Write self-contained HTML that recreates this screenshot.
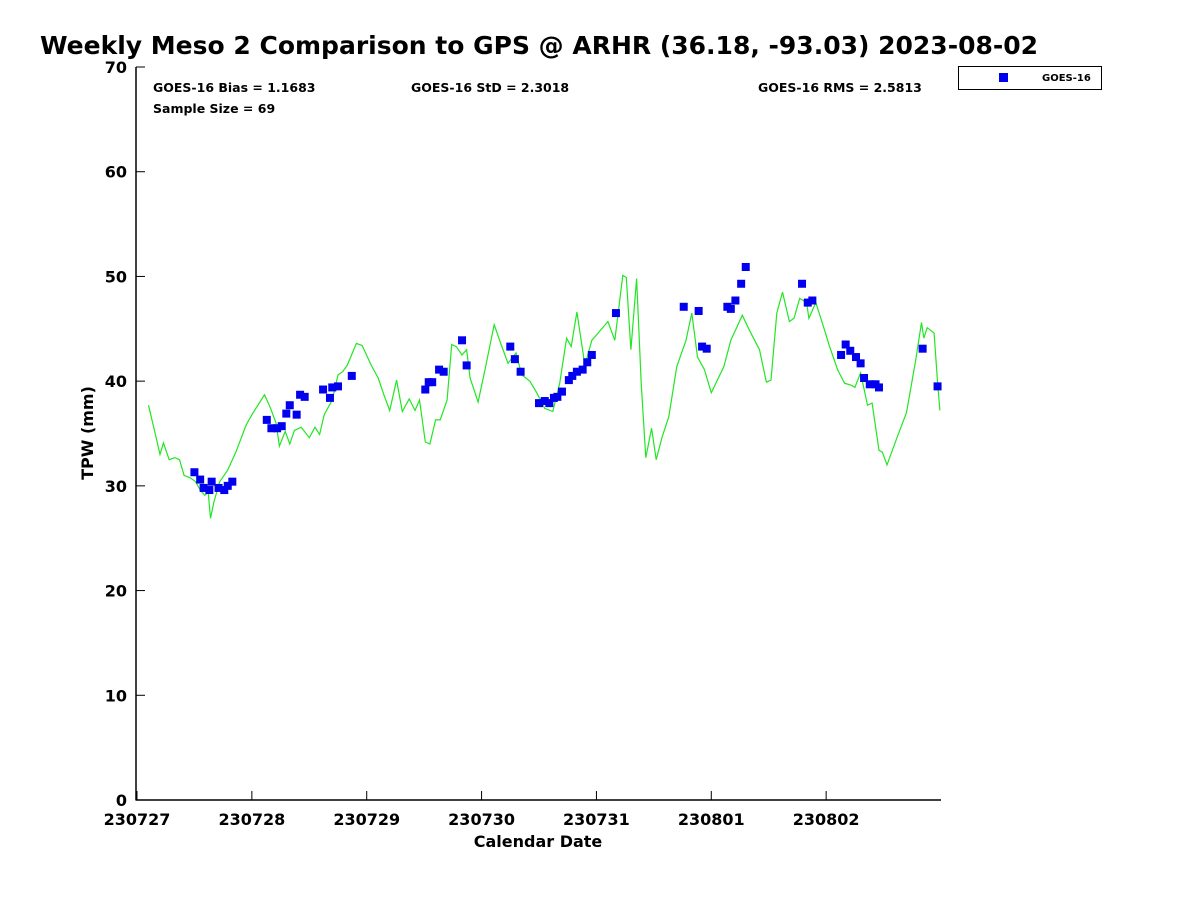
<!DOCTYPE html>
<html><head><meta charset="utf-8"><style>
body{margin:0;background:#fff;}
svg text{font-family:"DejaVu Sans","Liberation Sans",sans-serif;font-weight:bold;fill:#000;}
</style></head><body>
<svg id="chart" width="1200" height="900" xmlns="http://www.w3.org/2000/svg">
<text x="40" y="54" font-size="25">Weekly Meso 2 Comparison to GPS @ ARHR (36.18, -93.03) 2023-08-02</text>
<g font-size="12.5">
<text x="153" y="92">GOES-16 Bias = 1.1683</text>
<text x="411" y="92">GOES-16 StD = 2.3018</text>
<text x="758" y="92">GOES-16 RMS = 2.5813</text>
<text x="153" y="113">Sample Size = 69</text>
</g>
<g>
<rect x="958.5" y="66.5" width="143" height="23" fill="#fff" stroke="#000" stroke-width="1"/>
<rect x="999" y="73" width="9" height="9" fill="#0000ee"/>
<text x="1042" y="81" font-size="10">GOES-16</text>
</g>
<text transform="translate(93,433) rotate(-90)" text-anchor="middle" font-size="16">TPW (mm)</text>
<text x="538" y="847" text-anchor="middle" font-size="16">Calendar Date</text>
<g id="axes"></g>
<g id="marks"></g>
</svg>
<script>
const xTickLabels = ["230727","230728","230729","230730","230731","230801","230802"];
const yTicks = [0,10,20,30,40,50,60,70];
const gpsDays = [0.10,0.16,0.20,0.23,0.28,0.33,0.37,0.41,0.46,0.51,0.55,0.59,0.62,0.64,0.67,0.72,0.79,0.86,0.95,1.00,1.11,1.16,1.21,1.24,1.29,1.33,1.37,1.43,1.50,1.55,1.59,1.63,1.70,1.75,1.79,1.83,1.91,1.96,2.04,2.10,2.15,2.20,2.26,2.31,2.37,2.42,2.46,2.51,2.55,2.60,2.64,2.70,2.74,2.78,2.83,2.87,2.90,2.97,3.03,3.11,3.17,3.23,3.30,3.35,3.42,3.48,3.55,3.62,3.68,3.74,3.78,3.83,3.90,3.96,4.00,4.10,4.16,4.23,4.26,4.30,4.35,4.39,4.43,4.48,4.52,4.57,4.63,4.70,4.78,4.83,4.88,4.94,5.00,5.11,5.17,5.22,5.27,5.33,5.42,5.48,5.52,5.57,5.62,5.68,5.72,5.77,5.83,5.85,5.91,5.98,6.03,6.10,6.16,6.22,6.25,6.30,6.36,6.40,6.46,6.49,6.53,6.61,6.70,6.78,6.83,6.85,6.88,6.94,6.97,6.99];
const gpsTPW = [37.7,34.9,33.0,34.1,32.5,32.7,32.5,31.0,30.8,30.4,29.6,29.1,29.4,26.9,28.5,30.4,31.5,33.2,35.8,36.8,38.7,37.5,36.0,33.8,35.2,34.0,35.3,35.6,34.6,35.6,34.9,36.8,38.2,40.6,40.9,41.5,43.6,43.4,41.5,40.3,38.7,37.2,40.1,37.1,38.3,37.2,38.2,34.2,34.0,36.3,36.3,38.2,43.5,43.3,42.5,43.0,40.3,38.0,41.1,45.4,43.5,41.7,42.7,40.6,40.0,38.9,37.4,37.1,39.8,44.1,43.3,46.6,41.5,43.9,44.4,45.7,43.9,50.1,49.9,43.0,49.8,39.8,32.7,35.5,32.5,34.6,36.6,41.4,43.9,46.5,42.3,41.1,38.9,41.4,43.9,45.1,46.3,44.9,43.0,39.9,40.1,46.5,48.5,45.7,46.0,47.9,47.5,46.0,47.5,45.1,43.3,41.1,39.8,39.6,39.4,40.8,37.7,37.9,33.4,33.2,32.0,34.4,37.0,42.0,45.6,44.1,45.1,44.6,39.8,37.2];
const goesDays = [0.50,0.55,0.58,0.63,0.65,0.71,0.76,0.79,0.83,1.13,1.17,1.22,1.26,1.30,1.33,1.39,1.42,1.46,1.62,1.68,1.70,1.75,1.87,2.51,2.54,2.57,2.63,2.67,2.83,2.87,3.25,3.29,3.34,3.50,3.55,3.59,3.63,3.66,3.70,3.76,3.79,3.83,3.88,3.92,3.96,4.17,4.76,4.89,4.92,4.96,5.14,5.17,5.21,5.26,5.30,5.79,5.84,5.88,6.13,6.17,6.21,6.26,6.30,6.33,6.38,6.43,6.46,6.84,6.97];
const goesTPW = [31.3,30.6,29.8,29.6,30.4,29.8,29.6,30.0,30.4,36.3,35.5,35.5,35.7,36.9,37.7,36.8,38.7,38.5,39.2,38.4,39.4,39.5,40.5,39.2,39.9,39.9,41.1,40.9,43.9,41.5,43.3,42.1,40.9,37.9,38.1,37.9,38.4,38.5,39.0,40.1,40.5,40.9,41.1,41.8,42.5,46.5,47.1,46.7,43.3,43.1,47.1,46.9,47.7,49.3,50.9,49.3,47.5,47.7,42.5,43.5,42.9,42.3,41.7,40.3,39.7,39.7,39.4,43.1,39.5];

const NS="http://www.w3.org/2000/svg";
const L=137,R=941,T=67,B=800,DAYS=7;
const xs=d=>L+(d/DAYS)*(R-L);
const ys=v=>B-(v/70)*(B-T);
const axes=document.getElementById('axes'), marks=document.getElementById('marks');
function mk(tag,attrs,parent){const e=document.createElementNS(NS,tag);for(const k in attrs)e.setAttribute(k,attrs[k]);parent.appendChild(e);return e;}
let e=mk('line',{x1:136,y1:T,x2:136,y2:B+0.5,stroke:'#000','stroke-width':1.5},axes);


e=mk('line',{x1:136,y1:B,x2:R,y2:B,stroke:'#000','stroke-width':1.5},axes);


yTicks.forEach(v=>{
  const y=ys(v);
  let t=mk('line',{x1:136,y1:y,x2:145,y2:y,stroke:'#000','stroke-width':1},axes);
  
  
  let lb=mk('text',{x:127,y:y+6,'text-anchor':'end','font-size':16},axes);
  lb.textContent=v;
  
  
});
xTickLabels.forEach((s,i)=>{
  const x=xs(i);
  let t=mk('line',{x1:x,y1:B,x2:x,y2:B-9,stroke:'#000','stroke-width':1},axes);
  
  
  let lb=mk('text',{x:x,y:B+25,'text-anchor':'middle','font-size':16},axes);
  lb.textContent=s;
  
  
});
const pts=gpsDays.map((d,i)=>xs(d).toFixed(1)+','+ys(gpsTPW[i]).toFixed(1)).join(' ');
const pl=mk('polyline',{points:pts,fill:'none',stroke:'#22e622','stroke-width':1.2},marks);


goesDays.forEach((d,i)=>{
  const r=mk('rect',{x:xs(d)-4,y:ys(goesTPW[i])-4,width:8,height:8,fill:'#0000ee'},marks);
  
  
});
</script>
</body></html>
